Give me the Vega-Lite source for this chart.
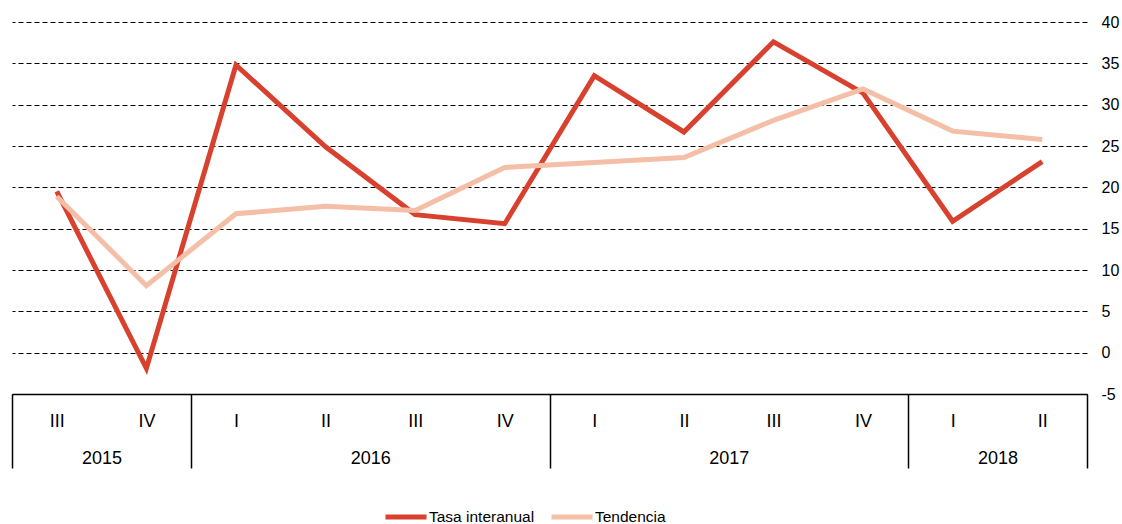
{
  "$schema": "https://vega.github.io/schema/vega-lite/v6.json",
  "width": 1075,
  "height": 372,
  "autosize": {"type": "none"},
  "padding": {"left": 12, "top": 22, "right": 35, "bottom": 130},
  "background": "white",
  "config": {
    "view": {"stroke": null},
    "font": "Liberation Sans",
    "axis": {"labelFont": "Liberation Sans", "labelColor": "#000"},
    "legend": {"labelFont": "Liberation Sans", "labelColor": "#000"}
  },
  "data": {
    "values": [
      {"idx": 0, "anio": 2015, "trim": "III", "serie": "Tasa interanual", "valor": 19.5},
      {"idx": 1, "anio": 2015, "trim": "IV", "serie": "Tasa interanual", "valor": -1.9},
      {"idx": 2, "anio": 2016, "trim": "I", "serie": "Tasa interanual", "valor": 34.8},
      {"idx": 3, "anio": 2016, "trim": "II", "serie": "Tasa interanual", "valor": 24.9},
      {"idx": 4, "anio": 2016, "trim": "III", "serie": "Tasa interanual", "valor": 16.7},
      {"idx": 5, "anio": 2016, "trim": "IV", "serie": "Tasa interanual", "valor": 15.6},
      {"idx": 6, "anio": 2017, "trim": "I", "serie": "Tasa interanual", "valor": 33.5},
      {"idx": 7, "anio": 2017, "trim": "II", "serie": "Tasa interanual", "valor": 26.7},
      {"idx": 8, "anio": 2017, "trim": "III", "serie": "Tasa interanual", "valor": 37.6},
      {"idx": 9, "anio": 2017, "trim": "IV", "serie": "Tasa interanual", "valor": 31.4},
      {"idx": 10, "anio": 2018, "trim": "I", "serie": "Tasa interanual", "valor": 15.9},
      {"idx": 11, "anio": 2018, "trim": "II", "serie": "Tasa interanual", "valor": 23.1},
      {"idx": 0, "anio": 2015, "trim": "III", "serie": "Tendencia", "valor": 18.9},
      {"idx": 1, "anio": 2015, "trim": "IV", "serie": "Tendencia", "valor": 8.1},
      {"idx": 2, "anio": 2016, "trim": "I", "serie": "Tendencia", "valor": 16.8},
      {"idx": 3, "anio": 2016, "trim": "II", "serie": "Tendencia", "valor": 17.7},
      {"idx": 4, "anio": 2016, "trim": "III", "serie": "Tendencia", "valor": 17.2},
      {"idx": 5, "anio": 2016, "trim": "IV", "serie": "Tendencia", "valor": 22.4},
      {"idx": 6, "anio": 2017, "trim": "I", "serie": "Tendencia", "valor": 23.0},
      {"idx": 7, "anio": 2017, "trim": "II", "serie": "Tendencia", "valor": 23.6},
      {"idx": 8, "anio": 2017, "trim": "III", "serie": "Tendencia", "valor": 28.1},
      {"idx": 9, "anio": 2017, "trim": "IV", "serie": "Tendencia", "valor": 31.9},
      {"idx": 10, "anio": 2018, "trim": "I", "serie": "Tendencia", "valor": 26.8},
      {"idx": 11, "anio": 2018, "trim": "II", "serie": "Tendencia", "valor": 25.8}
    ]
  },
  "layer": [
    {
      "mark": {"type": "line", "strokeWidth": 5},
      "encoding": {
        "x": {
          "field": "idx",
          "type": "quantitative",
          "scale": {"domain": [-0.5, 11.5], "nice": false, "zero": false},
          "axis": {
            "orient": "bottom",
            "title": null,
            "values": [0, 1, 2, 3, 4, 5, 6, 7, 8, 9, 10, 11],
            "labelExpr": "['III','IV','I','II','III','IV','I','II','III','IV','I','II'][datum.value]",
            "ticks": false,
            "tickSize": 0,
            "grid": false,
            "domain": true,
            "domainColor": "#000",
            "domainWidth": 1.5,
            "labelFontSize": 18,
            "labelPadding": 18,
            "labelFlush": false,
            "labelOverlap": false
          }
        },
        "y": {
          "field": "valor",
          "type": "quantitative",
          "scale": {"domain": [-5, 40], "nice": false, "zero": false},
          "axis": {
            "title": null,
            "orient": "right",
            "values": [-5, 0, 5, 10, 15, 20, 25, 30, 35, 40],
            "labelExpr": "'' + datum.value",
            "grid": true,
            "gridColor": "#000",
            "gridDash": [5, 3],
            "gridWidth": 1,
            "ticks": false,
            "tickSize": 0,
            "domain": false,
            "labelAlign": "left",
            "labelPadding": 14,
            "labelFontSize": 16,
            "labelFlush": false,
            "labelOverlap": false
          }
        },
        "color": {
          "field": "serie",
          "type": "nominal",
          "scale": {"domain": ["Tasa interanual", "Tendencia"], "range": ["#D9412F", "#F4BEA7"]},
          "legend": {
            "title": null,
            "orient": "none",
            "legendX": 371,
            "legendY": 472,
            "direction": "horizontal",
            "symbolType": "stroke",
            "symbolStrokeWidth": 5,
            "symbolSize": 1681,
            "labelFontSize": 15.5,
            "labelOffset": 0,
            "columnPadding": 6,
            "padding": 0
          }
        }
      }
    },
    {
      "mark": {"type": "point", "opacity": 0},
      "encoding": {
        "x": {
          "field": "idx",
          "type": "quantitative",
          "axis": {
            "orient": "bottom",
            "title": null,
            "values": [0.5, 3.5, 7.5, 10.5],
            "labelExpr": "floor((datum.value + 2.5) / 4) + 2015",
            "ticks": false,
            "tickSize": 0,
            "grid": false,
            "domain": false,
            "labelFontSize": 18,
            "labelPadding": 55,
            "labelFlush": false,
            "labelOverlap": false
          }
        },
        "y": {"field": "valor", "type": "quantitative"}
      }
    },
    {
      "mark": {"type": "point", "opacity": 0},
      "encoding": {
        "x": {
          "field": "idx",
          "type": "quantitative",
          "axis": {
            "orient": "bottom",
            "title": null,
            "values": [-0.5, 1.5, 5.5, 9.5, 11.5],
            "labels": false,
            "ticks": true,
            "tickSize": 74,
            "tickColor": "#000",
            "tickWidth": 1.5,
            "grid": false,
            "domain": false
          }
        },
        "y": {"field": "valor", "type": "quantitative"}
      }
    }
  ],
  "resolve": {"axis": {"x": "independent"}}
}
